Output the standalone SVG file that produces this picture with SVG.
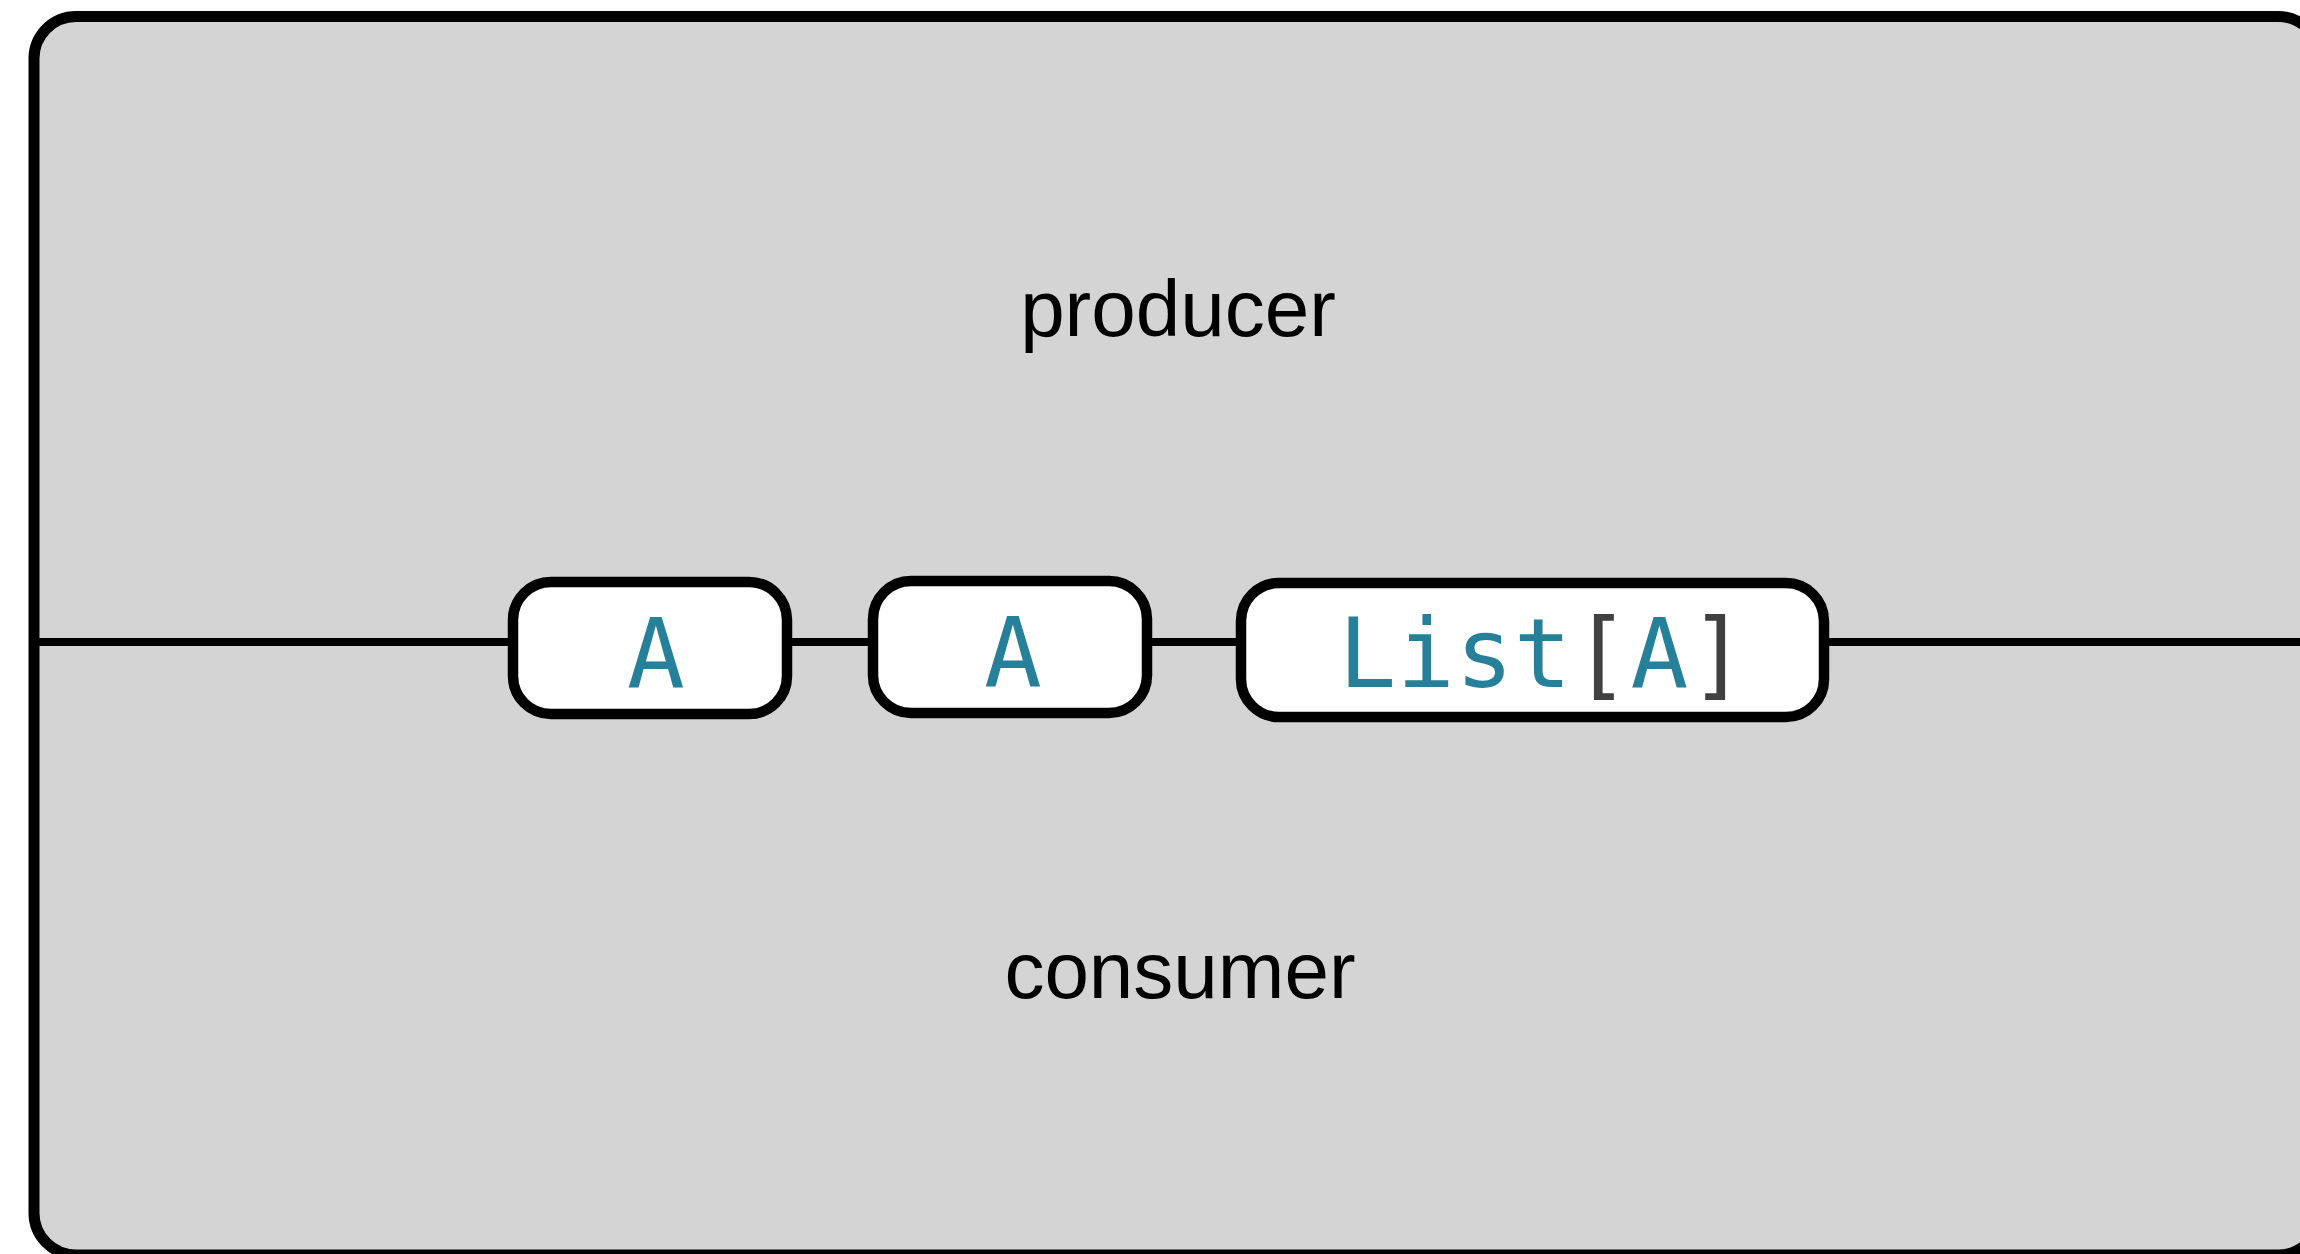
<svg xmlns="http://www.w3.org/2000/svg" width="2300" height="1254" viewBox="0 0 2300 1254">
  <style>
    .frame { fill: #d4d4d4; stroke: #000; stroke-width: 11; }
    .wire { stroke: #000; stroke-width: 8; fill: none; }
    .slot { fill: #fff; stroke: #000; stroke-width: 10.5; }
    .label { font-family: "Liberation Sans", Arial, sans-serif; font-size: 80px; fill: #000; text-anchor: middle; }
    .type { font-family: "DejaVu Sans Mono", monospace; font-size: 96px; fill: #27809a; text-anchor: middle; }
    .punct { fill: #404040; }
  </style>
  <rect width="2300" height="1254" fill="#fff"/>

  <g id="pipe">
    <rect class="frame" x="34" y="16.5" width="2286" height="1238.5" rx="42" ry="42"/>
    <text class="label" x="1178" y="336">producer</text>
    <text class="label" x="1180" y="998">consumer</text>
  </g>

  <g id="connectors">
    <line class="wire" x1="34" y1="642" x2="508" y2="642"/>
    <line class="wire" x1="792" y1="642" x2="868" y2="642"/>
    <line class="wire" x1="1152" y1="642" x2="1236" y2="642"/>
    <line class="wire" x1="1829" y1="642" x2="2300" y2="642"/>
  </g>

  <g id="element-1">
    <rect class="slot" x="513" y="582" width="274" height="132" rx="38" ry="38"/>
    <text class="type" x="656" y="687">A</text>
  </g>

  <g id="element-2">
    <rect class="slot" x="873" y="581" width="274" height="132" rx="38" ry="38"/>
    <text class="type" x="1013" y="686">A</text>
  </g>

  <g id="batch">
    <rect class="slot" x="1241" y="583" width="583" height="134" rx="38" ry="38"/>
    <text class="type" x="1543" y="687" letter-spacing="0.6">List<tspan class="punct">[</tspan>A<tspan class="punct">]</tspan></text>
  </g>
</svg>
